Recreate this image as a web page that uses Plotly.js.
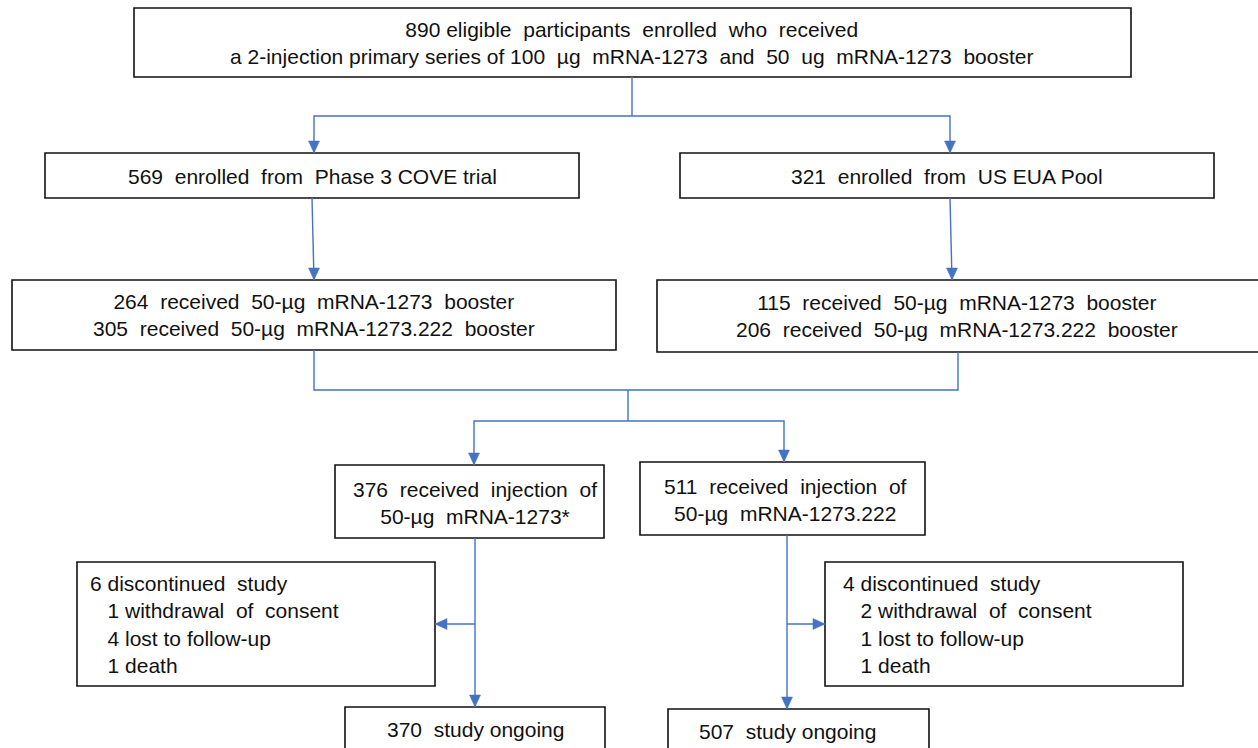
<!DOCTYPE html>
<html>
<head>
<meta charset="utf-8">
<script src="https://cdn.plot.ly/plotly-3.0.1.min.js"></script>
<style>html,body{margin:0;padding:0;background:#fff;}#chart{width:1258px;height:748px;}</style>
</head>
<body>
<div id="chart"></div>
<script>
// ---- data ----
const enrolledTotal = 890;
const sourceNames = ["Phase 3 COVE trial", "US EUA Pool"];
const sourceCounts = [569, 321];
const booster1273 = [264, 115];
const booster222 = [305, 206];
const armCounts = [376, 511];
const armVaccines = ["mRNA-1273*", "mRNA-1273.222"];
const discontinued = [6, 4];
const withdrawal = [1, 2];
const lostFollowUp = [4, 1];
const deaths = [1, 1];
const ongoing = [370, 507];

// ---- geometry (pixel frame, y downward) ----
const BOX = {
  top:  [134, 8, 1131, 77],
  srcL: [45, 153, 579, 198],
  srcR: [680, 153, 1214, 198],
  bstL: [12, 280, 616, 350],
  bstR: [657, 280, 1270, 352],
  armL: [335, 465, 604, 538],
  armR: [640, 462, 925, 535],
  disL: [77, 562, 435, 686],
  disR: [825, 562, 1183, 686],
  ongL: [345, 707, 605, 770],
  ongR: [668, 709, 929, 770]
};
const BLUE = '#4472C4';
const FONT = {family: 'Liberation Sans, Arial, sans-serif', size: 21, color: '#111'};
const sp = s => s.replace(/  /g, '\u00a0 ');

const shapes = [];
const annotations = [];
Object.values(BOX).forEach(b => shapes.push({
  type: 'rect', xref: 'x', yref: 'y', x0: b[0], y0: b[1], x1: b[2], y1: b[3],
  line: {color: '#111', width: 1.6}, fillcolor: 'rgba(0,0,0,0)', layer: 'above'
}));
function line(pts) {
  shapes.push({type: 'path', xref: 'x', yref: 'y',
    path: 'M' + pts.map(p => p[0] + ',' + p[1]).join('L'),
    line: {color: BLUE, width: 1.4}});
}
function head(x, y, dir) {
  const L = 12, W = 5.5;
  let p;
  if (dir === 'down') p = `M${x},${y}L${x - W},${y - L}L${x + W},${y - L}Z`;
  if (dir === 'left') p = `M${x},${y}L${x + L},${y - W}L${x + L},${y + W}Z`;
  if (dir === 'right') p = `M${x},${y}L${x - L},${y - W}L${x - L},${y + W}Z`;
  shapes.push({type: 'path', xref: 'x', yref: 'y', path: p, fillcolor: BLUE, line: {color: BLUE, width: 0.5}});
}
// connectors
line([[632, 77], [632, 116]]);
line([[314, 153], [314, 116], [950, 116], [950, 153]]);
head(314, 153, 'down'); head(950, 153, 'down');
line([[312, 198], [314, 280]]); head(314, 280, 'down');
line([[950, 198], [952, 280]]); head(952, 280, 'down');
line([[314, 350], [314, 390], [958, 390], [958, 352]]);
line([[628, 390], [628, 421]]);
line([[474, 465], [474, 421], [784, 421], [784, 462]]);
head(474, 465, 'down'); head(784, 462, 'down');
line([[475, 538], [475, 707]]); head(475, 707, 'down');
line([[475, 624], [435, 624]]); head(435, 624, 'left');
line([[787, 535], [787, 709]]); head(787, 709, 'down');
line([[787, 624], [825, 624]]); head(825, 624, 'right');

function text(x, y, t, anchor) {
  annotations.push({xref: 'x', yref: 'y', x: x, y: y, text: t, showarrow: false,
    xanchor: anchor || 'center', yanchor: 'middle', align: anchor || 'center', font: FONT});
}
text(632, 43, sp(enrolledTotal + ' eligible  participants  enrolled  who  received') + '<br>' +
  sp('a 2-injection primary series of 100  µg  mRNA-1273  and  50  ug  mRNA-1273  booster'));
text(312, 176, sp(sourceCounts[0] + '  enrolled  from  ' + sourceNames[0]));
text(947, 176, sp(sourceCounts[1] + '  enrolled  from  ' + sourceNames[1]));
[[314, 315], [957, 316]].forEach((c, i) => text(c[0], c[1],
  sp(booster1273[i] + '  received  50-µg  mRNA-1273  booster') + '<br>' +
  sp(booster222[i] + '  received  50-µg  mRNA-1273.222  booster')));
[[475, 503], [785, 500]].forEach((c, i) => text(c[0], c[1],
  sp(armCounts[i] + '  received  injection  of') + '<br>' + sp('50-µg  mRNA-' + armVaccines[i].replace('mRNA-', ''))));
[[88, 624], [841, 624]].forEach((c, i) => text(c[0], c[1],
  sp(discontinued[i] + ' discontinued  study') + '<br>' +
  sp('\u00a0\u00a0 ' + withdrawal[i] + ' withdrawal  of  consent') + '<br>' +
  sp('\u00a0\u00a0 ' + lostFollowUp[i] + ' lost to follow-up') + '<br>' +
  sp('\u00a0\u00a0 ' + deaths[i] + ' death'), 'left'));
text(475, 729, sp(ongoing[0] + '  study ongoing'));
text(787, 731, sp(ongoing[1] + '  study ongoing'));

const layout = {
  width: 1258, height: 748,
  margin: {l: 0, r: 0, t: 0, b: 0},
  paper_bgcolor: '#fff', plot_bgcolor: '#fff',
  xaxis: {range: [0, 1258], visible: false, fixedrange: true},
  yaxis: {range: [748, 0], visible: false, fixedrange: true},
  showlegend: false,
  shapes: shapes, annotations: annotations
};
Plotly.newPlot('chart', [{x: [], y: [], type: 'scatter', hoverinfo: 'skip'}], layout,
  {displayModeBar: false, staticPlot: true});
</script>
</body>
</html>
